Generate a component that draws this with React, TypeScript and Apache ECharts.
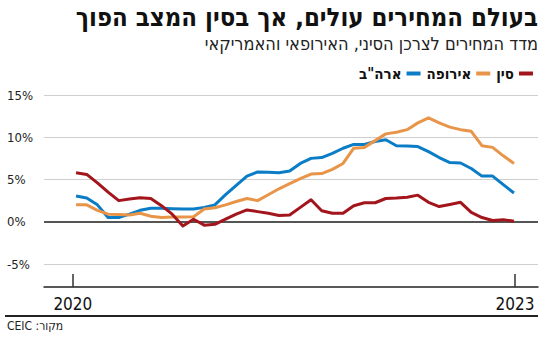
import React, { useEffect, useRef } from "react";
import * as echarts from "echarts";

const TITLE = "בעולם המחירים עולים, אך בסין המצב הפוך";
const SUBTITLE = "מדד המחירים לצרכן הסיני, האירופאי והאמריקאי";
const SOURCE = "\u202Bמקור: CEIC\u202C";

const SERIES_NAMES = ["ארה\"ב", "אירופה", "סין"];
const COLORS = ["#0b7cc6", "#e8954a", "#a3151c"];

// Monthly values, Jan 2020 .. Jun 2023 (index 0..41)
const US = [
  3.05, 2.8, 2.0, 0.5, 0.5, 0.9, 1.35, 1.6, 1.6, 1.55, 1.5, 1.5, 1.7, 2.0, 3.2, 4.3,
  5.4, 5.9, 5.85, 5.8, 6.0, 6.9, 7.5, 7.6, 8.1, 8.7, 9.15, 9.15, 9.5, 9.7, 9.0, 8.95,
  8.9, 8.3, 7.6, 7.0, 6.95, 6.3, 5.4, 5.4, 4.4, 3.4,
];
const EUROPE = [
  2.0, 2.0, 1.35, 0.9, 0.85, 0.8, 1.0, 0.65, 0.5, 0.55, 0.55, 0.6, 1.5, 1.65, 2.0, 2.4,
  2.75, 2.5, 3.2, 3.9, 4.5, 5.1, 5.65, 5.7, 6.2, 6.9, 8.7, 8.8, 9.6, 10.4, 10.6, 10.9,
  11.7, 12.3, 11.7, 11.2, 10.9, 10.7, 9.0, 8.8, 7.8, 6.9,
];
const CHINA = [
  5.8, 5.6, 4.6, 3.5, 2.5, 2.7, 2.85, 2.75, 1.9, 0.9, -0.5, 0.3, -0.4, -0.3, 0.3, 0.9,
  1.4, 1.2, 1.0, 0.75, 0.8, 1.7, 2.6, 1.3, 1.0, 1.0, 1.9, 2.25, 2.25, 2.75, 2.8, 2.9,
  3.15, 2.3, 1.8, 2.05, 2.3, 1.1, 0.5, 0.15, 0.25, 0.05,
];
const SERIES_DATA = [US, EUROPE, CHINA];

const X_TICK_LABELS = ["2020", "2023"];
const X_TICK_POS = [-0.3, 41.1];
const Y_MIN = -5;
const Y_MAX = 15;
const Y_STEP = 5;

const NUM_FONT = "'Liberation Sans Narrow', 'DejaVu Sans Condensed', 'Liberation Sans', sans-serif";
const HEB_FONT = "'DejaVu Sans Condensed', 'Liberation Sans Narrow', 'DejaVu Sans', sans-serif";

export default function App() {
  const ref = useRef<HTMLDivElement>(null);
  useEffect(() => {
    document.body.style.margin = "0";
    if (!ref.current) return;
    const chart = echarts.init(ref.current, null, { renderer: "svg" });
    const series: any[] = SERIES_NAMES.map((name, k) => ({
      name,
      type: "line",
      data: SERIES_DATA[k].map((v, i) => [i, v]),
      showSymbol: false,
      symbol: "none",
      lineStyle: { width: 3, color: COLORS[k], join: "round" },
      itemStyle: { color: COLORS[k] },
      z: 3 + k,
    }));
    series[0].markLine = {
      silent: true,
      symbol: "none",
      label: { show: false },
      lineStyle: { color: "#555", width: 2, type: "solid" },
      data: [{ yAxis: 0 }],
      z: 2,
    };
    chart.setOption({
      animation: false,
      grid: { left: 44, right: 12, top: 95, bottom: 76 },
      legend: {
        data: SERIES_NAMES,
        right: 12,
        top: 61,
        align: "right",
        icon: "rect",
        itemWidth: 14,
        itemHeight: 4,
        itemGap: 6,
        textStyle: { fontFamily: HEB_FONT, fontWeight: "bold", fontSize: 15, color: "#111", padding: [0, 0, 0, 0] },
      },
      xAxis: {
        type: "value",
        min: -3,
        max: 43.25,
        offset: 23,
        axisLine: { show: true, onZero: false, lineStyle: { color: "#222", width: 1.5 } },
        axisTick: { show: true, inside: true, length: 13, lineStyle: { color: "#333", width: 1.5 }, customValues: X_TICK_POS },
        axisLabel: {
          customValues: X_TICK_POS,
          formatter: (v: number) => X_TICK_LABELS[v < 20 ? 0 : 1],
          fontFamily: NUM_FONT,
          fontSize: 17,
          color: "#111",
          margin: 8,
        },
        splitLine: { show: false },
      },
      yAxis: {
        type: "value",
        min: Y_MIN,
        max: Y_MAX,
        interval: Y_STEP,
        axisLine: { show: false },
        axisTick: { show: false },
        axisLabel: {
          formatter: (v: number) => `${v}%`,
          align: "left",
          margin: 37,
          fontFamily: NUM_FONT,
          fontSize: 13,
          color: "#222",
        },
        splitLine: { show: true, lineStyle: { color: "#cfcfcf", width: 1 } },
      },
      graphic: [
        {
          type: "text",
          right: 12,
          top: 4,
          style: { text: TITLE, fontFamily: HEB_FONT, fontWeight: "bold", fontSize: 25.5, fill: "#111" },
        },
        {
          type: "text",
          right: 12,
          top: 34,
          style: { text: SUBTITLE, fontFamily: "'Liberation Sans Narrow', 'DejaVu Sans Condensed', sans-serif", fontSize: 18, fill: "#222" },
        },
        {
          type: "rect",
          left: 5,
          top: 315,
          shape: { width: 533, height: 2 },
          style: { fill: "#222" },
        },
        {
          type: "text",
          left: 7,
          top: 320,
          style: { text: SOURCE, fontFamily: NUM_FONT, fontSize: 12, fill: "#222" },
        },
      ],
      series,
    });
    return () => chart.dispose();
  }, []);
  return (
    <div style={{ position: "relative", width: 550, height: 340 }}>
      <div ref={ref} style={{ width: 550, height: 340 }} />
      <div
        style={{
          position: "absolute",
          left: 5,
          top: 315,
          width: 533,
          height: 2,
          background: "#222",
          pointerEvents: "none",
        }}
      />
    </div>
  );
}
